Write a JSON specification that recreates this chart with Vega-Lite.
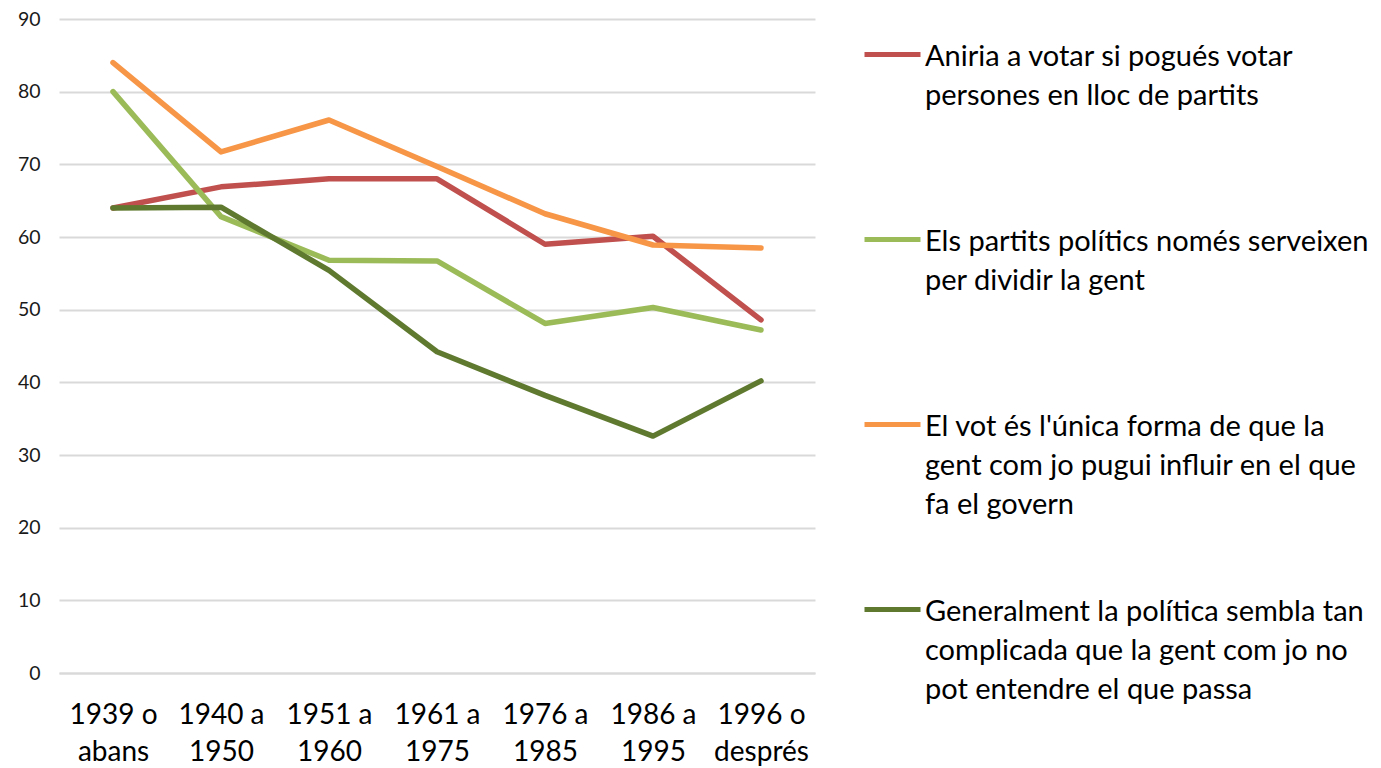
{
  "$schema": "https://vega.github.io/schema/vega-lite/v6.json",
  "width": 756,
  "height": 654,
  "autosize": {"type": "none"},
  "padding": {"left": 59, "top": 19, "right": 566, "bottom": 95},
  "background": "white",
  "config": {"view": {"stroke": null}, "font": "Lato"},
  "data": {
    "values": [
      {"s": "Aniria a votar si pogués votar|persones en lloc de partits", "c": "1939 o|abans", "v": 64.0},
      {"s": "Aniria a votar si pogués votar|persones en lloc de partits", "c": "1940 a|1950", "v": 66.9},
      {"s": "Aniria a votar si pogués votar|persones en lloc de partits", "c": "1951 a|1960", "v": 68.0},
      {"s": "Aniria a votar si pogués votar|persones en lloc de partits", "c": "1961 a|1975", "v": 68.0},
      {"s": "Aniria a votar si pogués votar|persones en lloc de partits", "c": "1976 a|1985", "v": 59.0},
      {"s": "Aniria a votar si pogués votar|persones en lloc de partits", "c": "1986 a|1995", "v": 60.1},
      {"s": "Aniria a votar si pogués votar|persones en lloc de partits", "c": "1996 o|després", "v": 48.6},
      {"s": "Els partits polítics només serveixen|per dividir la gent", "c": "1939 o|abans", "v": 80.0},
      {"s": "Els partits polítics només serveixen|per dividir la gent", "c": "1940 a|1950", "v": 62.8},
      {"s": "Els partits polítics només serveixen|per dividir la gent", "c": "1951 a|1960", "v": 56.8},
      {"s": "Els partits polítics només serveixen|per dividir la gent", "c": "1961 a|1975", "v": 56.7},
      {"s": "Els partits polítics només serveixen|per dividir la gent", "c": "1976 a|1985", "v": 48.1},
      {"s": "Els partits polítics només serveixen|per dividir la gent", "c": "1986 a|1995", "v": 50.3},
      {"s": "Els partits polítics només serveixen|per dividir la gent", "c": "1996 o|després", "v": 47.2},
      {"s": "El vot és l'única forma de que la|gent com jo pugui influir en el que|fa el govern", "c": "1939 o|abans", "v": 84.0},
      {"s": "El vot és l'única forma de que la|gent com jo pugui influir en el que|fa el govern", "c": "1940 a|1950", "v": 71.7},
      {"s": "El vot és l'única forma de que la|gent com jo pugui influir en el que|fa el govern", "c": "1951 a|1960", "v": 76.1},
      {"s": "El vot és l'única forma de que la|gent com jo pugui influir en el que|fa el govern", "c": "1961 a|1975", "v": 69.7},
      {"s": "El vot és l'única forma de que la|gent com jo pugui influir en el que|fa el govern", "c": "1976 a|1985", "v": 63.2},
      {"s": "El vot és l'única forma de que la|gent com jo pugui influir en el que|fa el govern", "c": "1986 a|1995", "v": 58.9},
      {"s": "El vot és l'única forma de que la|gent com jo pugui influir en el que|fa el govern", "c": "1996 o|després", "v": 58.5},
      {"s": "Generalment la política sembla tan|complicada que la gent com jo no|pot entendre el que passa", "c": "1939 o|abans", "v": 64.0},
      {"s": "Generalment la política sembla tan|complicada que la gent com jo no|pot entendre el que passa", "c": "1940 a|1950", "v": 64.1},
      {"s": "Generalment la política sembla tan|complicada que la gent com jo no|pot entendre el que passa", "c": "1951 a|1960", "v": 55.4},
      {"s": "Generalment la política sembla tan|complicada que la gent com jo no|pot entendre el que passa", "c": "1961 a|1975", "v": 44.2},
      {"s": "Generalment la política sembla tan|complicada que la gent com jo no|pot entendre el que passa", "c": "1976 a|1985", "v": 38.2},
      {"s": "Generalment la política sembla tan|complicada que la gent com jo no|pot entendre el que passa", "c": "1986 a|1995", "v": 32.6},
      {"s": "Generalment la política sembla tan|complicada que la gent com jo no|pot entendre el que passa", "c": "1996 o|després", "v": 40.2}
    ]
  },
  "mark": {"type": "line", "strokeWidth": 5.5, "strokeCap": "round", "strokeJoin": "round"},
  "encoding": {
    "x": {
      "field": "c", "type": "nominal", "sort": null,
      "scale": {"type": "point", "padding": 0.5},
      "axis": {
        "title": null, "labelAngle": 0, "ticks": false,
        "domain": true, "domainColor": "#d9d9d9", "domainWidth": 2,
        "labelExpr": "split(datum.label, '|')",
        "labelFont": "Lato", "labelFontSize": 28, "labelColor": "#000000",
        "labelBaseline": "top", "labelLineHeight": 37, "labelPadding": 28
      }
    },
    "y": {
      "field": "v", "type": "quantitative",
      "scale": {"domain": [0, 90], "nice": false},
      "axis": {
        "title": null, "values": [0, 10, 20, 30, 40, 50, 60, 70, 80, 90],
        "domain": false, "ticks": false,
        "gridColor": "#d9d9d9", "gridWidth": 2,
        "labelFont": "Lato", "labelFontSize": 19.5, "labelColor": "#1a1a1a",
        "labelPadding": 19
      }
    },
    "color": {
      "field": "s", "type": "nominal",
      "scale": {
        "domain": [
          "Aniria a votar si pogués votar|persones en lloc de partits",
          "Els partits polítics només serveixen|per dividir la gent",
          "El vot és l'única forma de que la|gent com jo pugui influir en el que|fa el govern",
          "Generalment la política sembla tan|complicada que la gent com jo no|pot entendre el que passa"
        ],
        "range": ["#c0504d", "#9bbb59", "#f79646", "#5f7a2f"]
      },
      "legend": {
        "title": null, "orient": "none", "legendX": 803, "legendY": 5,
        "symbolType": "stroke", "symbolSize": 3136, "symbolStrokeWidth": 5,
        "labelExpr": "split(datum.label, '|')",
        "labelFont": "Lato", "labelFontSize": 29, "labelColor": "#000000",
        "labelLimit": 0, "labelOffset": 2,
        "labelBaseline": "top",
        "gridAlign": "all", "rowPadding": 59,
        "encode": {
          "labels": {"update": {"lineHeight": {"value": 39}, "dy": {"value": -12}}}
        }
      }
    }
  }
}
